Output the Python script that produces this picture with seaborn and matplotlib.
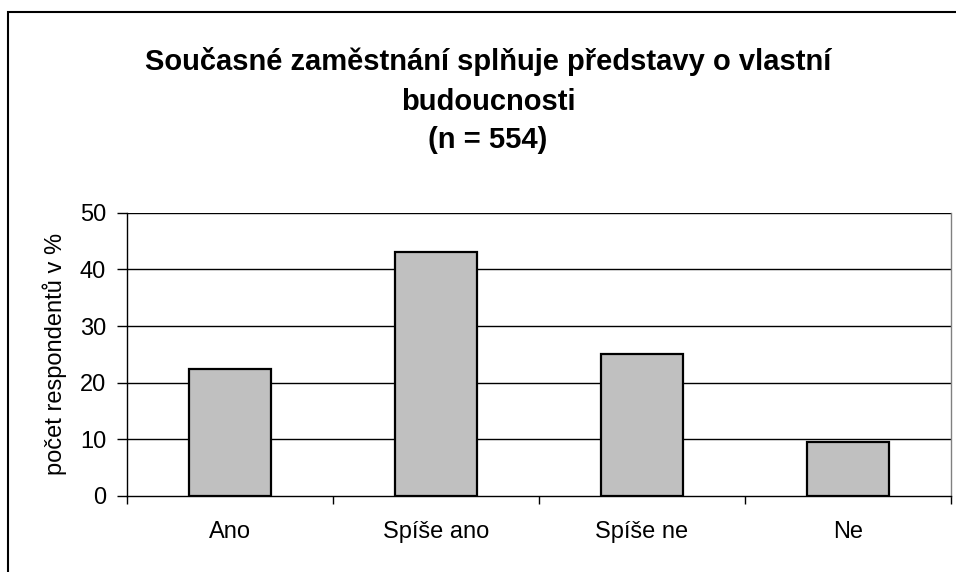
import matplotlib
matplotlib.use("Agg")
import matplotlib.pyplot as plt
import seaborn as sns
import pandas as pd
from matplotlib.patches import Rectangle
from matplotlib.ticker import FixedLocator

categories = ["Ano", "Spíše ano", "Spíše ne", "Ne"]
values = [22.5, 43.0, 25.0, 9.5]
yticks = [0, 10, 20, 30, 40, 50]
title = "Současné zaměstnání splňuje představy o vlastní\nbudoucnosti\n(n = 554)"
ylabel = "počet respondentů v %"

sns.set_theme(style="white")
plt.rcParams['font.family'] = ['Liberation Sans', 'DejaVu Sans']
plt.rcParams['text.color'] = 'black'
plt.rcParams['axes.labelcolor'] = 'black'
plt.rcParams['xtick.color'] = 'black'
plt.rcParams['ytick.color'] = 'black'

df = pd.DataFrame({"cat": categories, "val": values})

fig = plt.figure(figsize=(9.56, 5.72), dpi=100)
ax = fig.add_axes([127/956, 1-496/572, (951-127)/956, (496-212.7)/572])

sns.barplot(data=df, x="cat", y="val", ax=ax, color="#C0C0C0",
            edgecolor="black", linewidth=1.6, width=0.4, saturation=1, zorder=3)

ax.set_ylim(0, 50)
ax.set_xlim(-0.5, 3.5)
ax.set_yticks(yticks)
ax.set_yticklabels([str(t) for t in yticks], fontsize=17)
for y in yticks[1:]:
    ax.axhline(y, color="black", lw=1.0, zorder=1)

ax.set_xlabel("")
ax.set_ylabel(ylabel, fontsize=17)
ax.yaxis.set_label_coords(-0.073, 0.5)
ax.tick_params(axis="x", which="major", length=0, labelsize=17, pad=18)
ax.xaxis.set_minor_locator(FixedLocator([-0.5, 0.5, 1.5, 2.5, 3.5]))
ax.tick_params(axis="x", which="minor", length=6, width=1, color="black", direction="out", bottom=True)
ax.tick_params(axis="y", which="major", length=7, width=1, color="black", direction="out", left=True, pad=8)

for s in ["left", "bottom"]:
    ax.spines[s].set_color("black")
    ax.spines[s].set_linewidth(1.0)
ax.spines["top"].set_visible(False)
ax.spines["right"].set_color("#808080")
ax.spines["right"].set_linewidth(1.0)

fig.text(488/956, 1-101/572, title, ha="center", va="center", fontsize=21,
         fontweight="bold", linespacing=1.5, color="black")

fig.patches.append(Rectangle((8/956, -0.1), 1.2, 1-12/572+0.1, transform=fig.transFigure,
                             fill=False, edgecolor="black", lw=1.5))

fig.savefig("out.png", dpi=100)
